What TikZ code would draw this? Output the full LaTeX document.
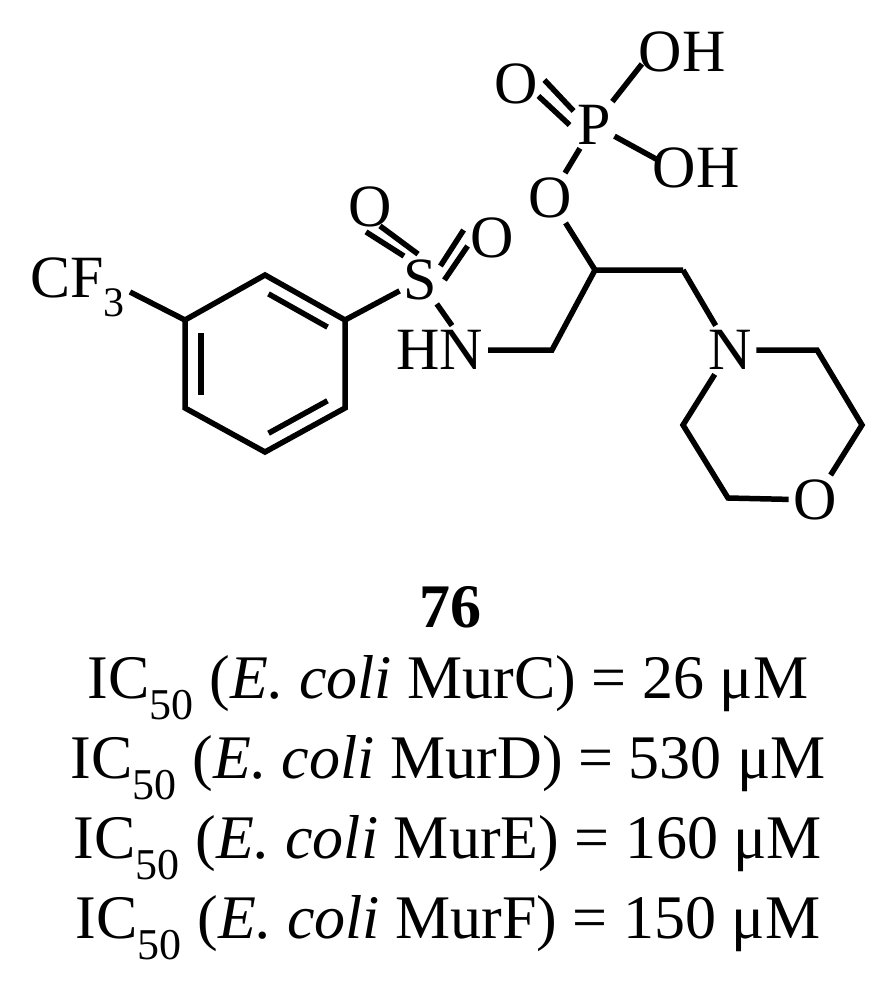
\documentclass[tikz,border=0pt]{standalone}
\usepackage{fontspec}
\setmainfont{Liberation Serif}
\usetikzlibrary{calc}
\begin{document}
\begin{tikzpicture}[x=1pt,y=-1pt,line width=5.5pt,
  atom/.style={inner sep=2pt,font=\fontsize{60}{70}\selectfont},
  captext/.style={font=\fontsize{62}{72}\selectfont,anchor=center}]
\useasboundingbox (0,0) rectangle (887,992);
% ring
\coordinate (r1) at (265,275);
\coordinate (r2) at (345,320);
\coordinate (r3) at (345,408);
\coordinate (r4) at (265,452);
\coordinate (r5) at (185,408);
\coordinate (r6) at (185,320);
\draw[line join=miter] (r1)--(r2)--(r3)--(r4)--(r5)--(r6)--cycle;
\draw ($(r6)!0.15!(r5)+(16,0)$) -- ($(r5)!0.15!(r6)+(16,0)$);
\draw[shorten <=12pt,shorten >=12pt] ($(r1)+(-7,13)$) -- ($(r2)+(-7,13)$);
\draw[shorten <=12pt,shorten >=12pt] ($(r3)+(-7,-13)$) -- ($(r4)+(-7,-13)$);
\node[atom] (cf) at (78,287) {CF\textsubscript{\fontsize{42}{46}\selectfont 3}};
\coordinate (cfb) at (130,292);
\draw (cfb) -- (r6);
\node[atom,inner sep=1pt] (s) at (420,280) {S};
\draw (r2) -- (s);
\node[atom] (o1) at (370,207) {O};
\node[atom] (o2) at (492,238) {O};
\draw ($(s.north)+(-16,0)$) -- ($(o1.south)+(-4,0)$);
\draw ($(s.north)+(-2,-2)$) -- ($(o1.south)+(10,-6)$);
\draw ($(s.east)+(0,-14)$) -- ($(o2.west)+(-2,-8)$);
\draw ($(s.east)+(4,0)$) -- ($(o2.west)+(2,8)$);
\node[atom] (hn) at (440,350) {HN};
\draw (s) -- ($(hn.north)+(12,0)$);
\coordinate (c1) at (552,350);
\coordinate (c2) at (595,270);
\coordinate (c3) at (683,270);
\draw[line join=miter] (hn.east) -- (c1) -- (c2) -- (c3);
\node[atom] (o3) at (550,198) {O};
\draw (c2) -- (o3);
\node[atom,inner sep=1pt] (p) at (594,125) {P};
\draw (o3) -- (p);
\node[atom] (o4) at (516,84) {O};
\draw ($(p.west)+(0,-14)$) -- ($(o4.east)+(2,-4)$);
\draw ($(p.west)+(-4,0)$) -- ($(o4.east)+(-4,12)$);
\node[atom] (oh1) at (682,52) {OH};
\node[atom] (oh2) at (696,168) {OH};
\draw (p) -- ($(oh1.west)+(8,12)$);
\draw (p) -- ($(oh2.west)+(10,-8)$);
\node[atom] (n) at (730,350) {N};
\draw (c3) -- (n);
\coordinate (m1) at (817,350);
\coordinate (m2) at (862,425);
\node[atom] (o5) at (815,500) {O};
\coordinate (m4) at (728,498);
\coordinate (m5) at (683,425);
\draw[line join=miter] (n) -- (m1) -- (m2) -- (o5);
\draw[line join=miter] (o5) -- (m4) -- (m5) -- (n);
% captions
\node[captext,font=\fontsize{62}{72}\selectfont\bfseries] (t0) at (450,607) {76};
\node[captext] (t1) at (448,688) {IC\textsubscript{\fontsize{44}{50}\selectfont 50} (\textit{E. coli} MurC) = 26 μM};
\node[captext] (t2) at (448,768) {IC\textsubscript{\fontsize{44}{50}\selectfont 50} (\textit{E. coli} MurD) = 530 μM};
\node[captext] (t3) at (448,848) {IC\textsubscript{\fontsize{44}{50}\selectfont 50} (\textit{E. coli} MurE) = 160 μM};
\node[captext] (t4) at (448,928) {IC\textsubscript{\fontsize{44}{50}\selectfont 50} (\textit{E. coli} MurF) = 150 μM};
\end{tikzpicture}
\end{document}
